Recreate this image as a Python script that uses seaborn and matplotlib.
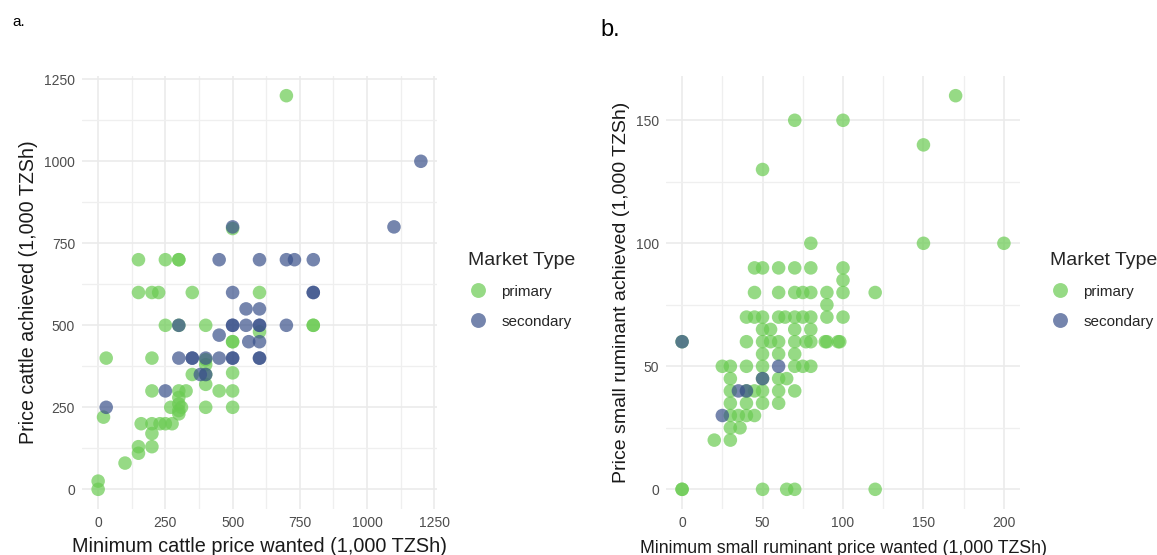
import numpy as np
import pandas as pd
import matplotlib
matplotlib.use("Agg")
import matplotlib.pyplot as plt
from matplotlib.ticker import MultipleLocator, FuncFormatter
import seaborn as sns

# ---- Data: panel a (cattle, 1,000 TZSh) ----
cattle_primary_wanted = [0, 0, 20, 30, 100, 150, 150, 150, 150, 160, 200, 200, 200, 200, 200, 200,
                         225, 230, 250, 250, 250, 270, 275, 300, 300, 300, 300, 300, 300, 300, 300,
                         310, 327, 350, 350, 400, 400, 400, 400, 400, 400, 450, 500, 500, 500, 500,
                         500, 500, 600, 600, 700, 800, 800]
cattle_primary_achieved = [0, 25, 220, 400, 80, 110, 130, 700, 600, 200, 130, 170, 200, 300, 400, 600,
                           600, 200, 200, 500, 700, 250, 200, 700, 700, 500, 300, 280, 260, 240, 230,
                           250, 300, 350, 600, 380, 320, 395, 500, 250, 350, 300, 300, 250, 355, 450,
                           450, 795, 600, 480, 1200, 500, 500]
cattle_secondary_wanted = [30, 250, 300, 300, 350, 350, 380, 400, 400, 450, 450, 450, 500, 500, 500,
                           500, 500, 500, 550, 550, 560, 600, 600, 600, 600, 600, 600, 600, 700, 700,
                           730, 800, 800, 800, 1100, 1200]
cattle_secondary_achieved = [250, 300, 400, 500, 400, 400, 350, 350, 400, 400, 470, 700, 400, 400, 500,
                             500, 600, 800, 500, 550, 450, 400, 400, 450, 500, 500, 550, 700, 500, 700,
                             700, 600, 600, 700, 800, 1000]

# ---- Data: panel b (small ruminants, 1,000 TZSh) ----
sr_primary_wanted = [0, 0, 0, 20, 25, 30, 30, 30, 30, 30, 30, 30, 35, 36, 40, 40, 40, 40, 40, 40,
                     45, 45, 45, 45, 45, 50, 50, 50, 50, 50, 50, 50, 50, 50, 50, 50, 55, 55, 60, 60,
                     60, 60, 60, 60, 60, 60, 65, 64, 65, 70, 70, 70, 70, 70, 70, 70, 70, 70, 70, 75,
                     75, 75, 77, 80, 80, 80, 80, 80, 80, 80, 89, 90, 90, 90, 90, 97, 100, 100, 100,
                     100, 100, 98, 120, 120, 150, 150, 170, 200]
sr_primary_achieved = [0, 0, 60, 20, 50, 50, 45, 40, 35, 30, 25, 20, 30, 25, 50, 40, 35, 30, 60, 70,
                       30, 40, 70, 80, 90, 130, 90, 70, 65, 60, 55, 50, 45, 40, 35, 0, 65, 60, 90, 80,
                       70, 60, 55, 45, 40, 35, 45, 70, 0, 150, 90, 80, 70, 65, 60, 55, 50, 40, 0, 80,
                       50, 70, 60, 100, 90, 80, 70, 65, 60, 50, 60, 80, 75, 70, 60, 60, 150, 90, 85,
                       80, 70, 60, 80, 0, 140, 100, 160, 100]
sr_secondary_wanted = [0, 25, 35, 40, 50, 60]
sr_secondary_achieved = [60, 30, 40, 40, 45, 50]

market_labels = ["primary", "secondary"]
palette = {"primary": "#6ACB52", "secondary": "#3B528B"}

df_a = pd.DataFrame({
    "wanted": cattle_primary_wanted + cattle_secondary_wanted,
    "achieved": cattle_primary_achieved + cattle_secondary_achieved,
    "Market Type": [market_labels[0]] * len(cattle_primary_wanted) + [market_labels[1]] * len(cattle_secondary_wanted),
})
df_b = pd.DataFrame({
    "wanted": sr_primary_wanted + sr_secondary_wanted,
    "achieved": sr_primary_achieved + sr_secondary_achieved,
    "Market Type": [market_labels[0]] * len(sr_primary_wanted) + [market_labels[1]] * len(sr_secondary_wanted),
})

sns.set_theme(style="white")
plt.rcParams["font.family"] = ["Liberation Sans", "DejaVu Sans"]

fig = plt.figure(figsize=(11.57, 5.55), dpi=100)
ax_a = fig.add_axes([82 / 1157, 1 - 509 / 555, 355 / 1157, 433 / 555])
ax_b = fig.add_axes([666 / 1157, 1 - 509 / 555, 354 / 1157, 433 / 555])


def style_axis(ax, xlim, ylim, xmaj, ymaj, xlabel, ylabel, xls, yls, xpad):
    ax.set_xlim(*xlim)
    ax.set_ylim(*ylim)
    ax.xaxis.set_major_locator(MultipleLocator(xmaj))
    ax.yaxis.set_major_locator(MultipleLocator(ymaj))
    ax.xaxis.set_minor_locator(MultipleLocator(xmaj / 2))
    ax.yaxis.set_minor_locator(MultipleLocator(ymaj / 2))
    ax.grid(which="major", color="#EBEBEB", linewidth=1.2)
    ax.grid(which="minor", color="#EFEFEF", linewidth=0.9)
    ax.set_axisbelow(True)
    for s in ax.spines.values():
        s.set_visible(False)
    ax.tick_params(which="both", length=0, labelsize=10, labelcolor="#4D4D4D", pad=5)
    ax.set_xlabel(xlabel, fontsize=xls, color="#1A1A1A", labelpad=xpad)
    ax.set_ylabel(ylabel, fontsize=yls, color="#1A1A1A", labelpad=4)


for ax, df in [(ax_a, df_a), (ax_b, df_b)]:
    sns.scatterplot(data=df, x="wanted", y="achieved", hue="Market Type",
                    hue_order=market_labels, palette=palette, s=95, alpha=0.7,
                    linewidth=0, ax=ax)

style_axis(ax_a, (-60, 1260), (-60, 1260), 250, 250,
           "Minimum cattle price wanted (1,000 TZSh)", "Price cattle achieved (1,000 TZSh)", 14.3, 14.1, 5)
ax_a.xaxis.set_major_formatter(FuncFormatter(lambda v, p: f"{int(v)}"))
style_axis(ax_b, (-10, 210), (-8, 168), 50, 50,
           "Minimum small ruminant price wanted (1,000 TZSh)", "Price small ruminant achieved (1,000 TZSh)", 12.8, 14.0, 7)

for ax, x0 in [(ax_a, 454 / 1157), (ax_b, 1036 / 1157)]:
    sns.move_legend(ax, loc="upper left", bbox_to_anchor=(x0, 1 - 238 / 555),
                    bbox_transform=fig.transFigure, frameon=False, title="Market Type",
                    fontsize=11, title_fontsize=14, handletextpad=0.8, labelspacing=1.05,
                    handlelength=1.4, markerscale=1.1)
    leg = ax.get_legend()
    leg._legend_box.align = "left"
    for lh in leg.legend_handles:
        lh.set_alpha(0.7)

fig.text(12 / 1157, 1 - 22 / 555, "a.", fontsize=11, va="center", ha="left", color="black")
fig.text(600 / 1157, 1 - 30 / 555, "b.", fontsize=17, va="center", ha="left", color="black")

fig.savefig("out.png", dpi=100, facecolor="white")
